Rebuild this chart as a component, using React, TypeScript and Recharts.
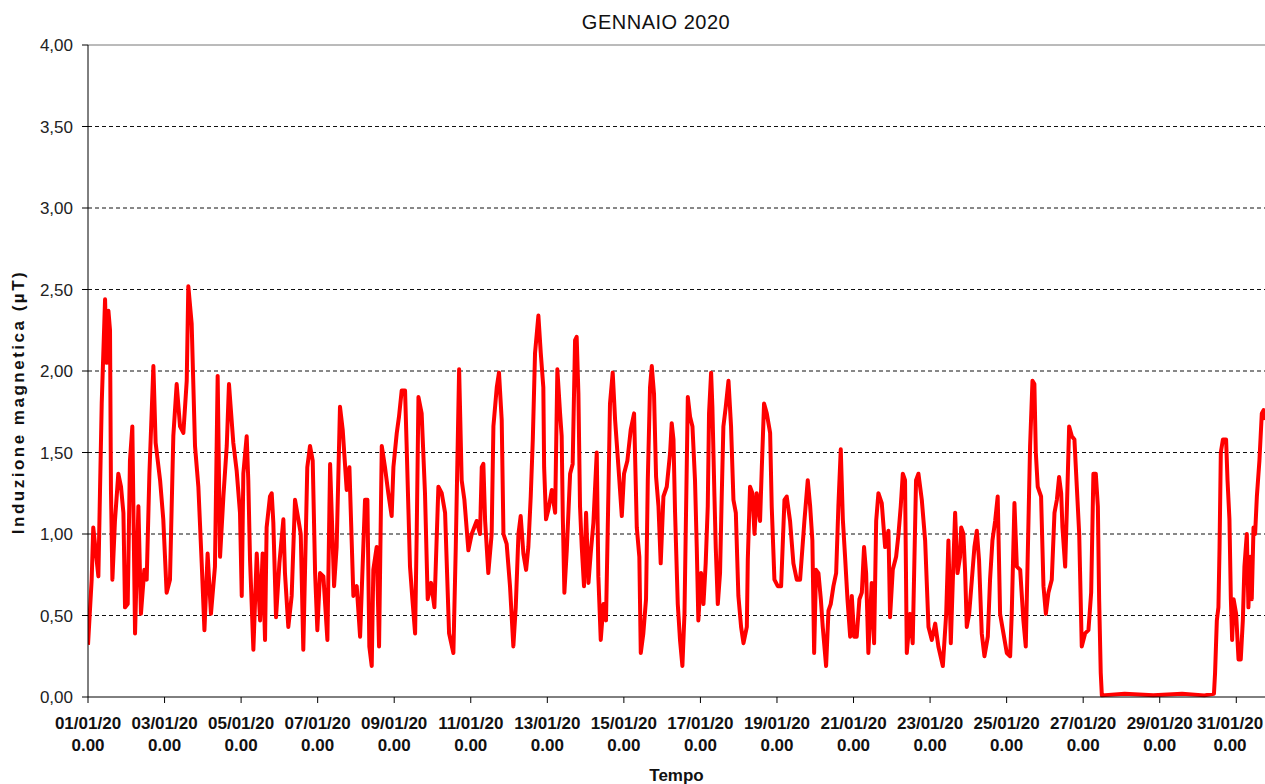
import {
  LineChart,
  Line,
  XAxis,
  YAxis,
  CartesianGrid,
  ReferenceLine,
  Label,
} from "recharts";

// hours since 01/01/2020 0.00
const hours = [
  0, 2.3, 3.3, 6.5, 7.5, 8.6, 10.7, 11.7, 12.8, 13.8, 14.4, 15.3, 16.9, 19.0,
  20.7, 22.2, 23.2, 24.9, 26.3, 27.8, 29.5, 31.6, 33.2, 35.3, 36.8, 38.5, 41.0,
  42.4, 45.2, 47.2, 49.3, 51.4, 53.5, 55.6, 57.7, 59.8, 61.9, 62.9, 65.0, 67.1,
  69.2, 71.3, 73.0, 75.0, 77.1, 79.6, 81.3, 82.8, 84.9, 87.0, 88.4, 91.1, 93.2,
  95.3, 96.4, 97.4, 99.5, 100.5, 101.6, 103.7, 105.8, 107.9, 109.5, 111.0,
  112.0, 114.1, 115.2, 116.2, 117.9, 120.0, 122.5, 123.5, 125.6, 127.7, 129.8,
  131.9, 133.4, 135.0, 137.5, 139.2, 140.9, 142.4, 143.8, 145.5, 147.6, 150.1,
  151.8, 154.3, 155.9, 158.0, 159.7, 162.2, 163.9, 166.4, 168.5, 170.6, 171.6,
  173.7, 175.2, 176.4, 177.9, 178.9, 181.0, 182.5, 184.2, 186.2, 188.3, 190.4,
  191.5, 193.6, 195.0, 196.7, 198.8, 199.8, 201.9, 203.4, 205.1, 206.1, 207.2,
  209.2, 211.3, 213.0, 215.1, 217.2, 219.7, 221.8, 223.9, 226.4, 229.1, 230.6,
  232.7, 234.3, 236.0, 238.5, 240.6, 243.7, 245.8, 246.9, 247.9, 249.0, 251.0,
  253.1, 254.2, 256.3, 257.7, 259.4, 260.5, 262.5, 264.6, 266.7, 268.2, 269.9,
  271.3, 273.0, 274.7, 276.1, 277.6, 278.9, 280.3, 282.4, 283.9, 285.5, 286.0,
  287.2, 288.7, 290.8, 292.9, 294.3, 296.0, 297.0, 297.7, 298.7, 300.2, 302.3,
  303.9, 305.4, 306.4, 307.5, 308.5, 309.6, 311.0, 312.3, 313.8, 315.2, 316.9,
  319.0, 320.0, 321.5, 323.2, 324.8, 326.3, 327.3, 329.0, 330.5, 332.6, 334.7,
  336.1, 338.2, 340.3, 342.4, 344.1, 345.7, 346.6, 348.2, 349.9, 351.0, 352.4,
  353.5, 354.9, 356.2, 357.7, 359.1, 360.8, 362.9, 365.0, 366.0, 367.1, 368.1,
  369.8, 371.2, 372.7, 374.0, 374.8, 376.1, 377.5, 379.0, 380.6, 381.7, 382.7,
  384.4, 385.9, 387.3, 388.6, 389.4, 390.7, 391.5, 392.8, 393.6, 394.9, 396.3,
  397.4, 398.4, 399.9, 401.6, 403.2, 404.7, 406.2, 407.8, 409.5, 411.0, 413.1,
  413.7, 415.1, 416.6, 417.9, 419.3, 421.4, 422.5, 423.9, 425.6, 427.7, 428.7,
  430.4, 432.5, 434.6, 436.7, 438.1, 440.2, 442.3, 444.4, 446.5, 449.2, 451.3,
  452.8, 454.2, 455.3, 456.5, 458.0, 459.5, 460.7, 462.8, 464.3, 465.7, 467.4,
  469.1, 470.5, 472.0, 473.3, 474.7, 476.2, 477.9, 478.9, 480.4, 482.0, 483.7,
  485.2, 486.6, 487.9, 489.3, 491.4, 492.9, 494.2, 495.6, 497.7, 499.8, 501.9,
  502.9, 504.6, 506.7, 508.2, 509.6, 510.9, 512.3, 513.4, 515.5, 517.1, 519.2,
  520.7, 522.8, 524.9, 527.0, 529.1, 531.2, 533.2, 536.0, 538.1, 539.5, 541.0,
  542.6, 543.7, 545.2, 546.8, 547.5, 548.9, 550.0, 551.0, 552.5, 554.2, 555.8,
  557.3, 558.7, 560.4, 562.1, 564.2, 565.6, 567.1, 568.8, 570.4, 571.9, 574.0,
  576.1, 578.2, 579.2, 580.9, 582.4, 584.5, 586.5, 588.0, 589.7, 590.7, 592.2,
  593.4, 594.3, 595.5, 597.6, 599.1, 600.6, 602.2, 604.3, 606.0, 607.5, 608.9,
  610.2, 611.0, 612.7, 613.7, 615.2, 616.9, 618.5, 620.0, 621.5, 623.1, 625.2,
  627.3, 629.0, 630.4, 631.9, 633.2, 634.0, 635.0, 635.7, 650.0, 668.0, 686.0,
  700.0, 706.0, 706.7, 707.8, 708.8, 709.5, 710.3, 711.6, 713.6, 714.5, 715.7,
  716.6, 717.4, 718.3, 719.9, 721.4, 722.8, 724.1, 725.1, 726.6, 727.6, 728.7,
  729.7, 730.8, 731.8, 732.9, 734.5, 736.0, 737.1, 738.1,
];

// µT
const induction = [
  0.32, 0.72, 1.04, 0.74, 1.25, 1.8, 2.44, 2.05, 2.37, 2.25, 1.27, 0.72, 1.08,
  1.37, 1.29, 1.13, 0.55, 0.57, 1.45, 1.66, 0.39, 1.17, 0.51, 0.78, 0.72, 1.37,
  2.03, 1.56, 1.33, 1.09, 0.64, 0.72, 1.6, 1.92, 1.66, 1.62, 1.94, 2.52, 2.29,
  1.54, 1.29, 0.82, 0.41, 0.88, 0.51, 0.8, 1.97, 0.86, 1.23, 1.54, 1.92, 1.56,
  1.39, 1.13, 0.62, 1.37, 1.6, 1.33, 0.84, 0.29, 0.88, 0.47, 0.88, 0.35, 1.04,
  1.23, 1.25, 1.07, 0.49, 0.82, 1.09, 0.76, 0.43, 0.62, 1.21, 1.09, 1.0, 0.29,
  1.41, 1.54, 1.45, 0.76, 0.41, 0.76, 0.74, 0.35, 1.43, 0.68, 0.92, 1.78, 1.64,
  1.27, 1.41, 0.62, 0.68, 0.37, 0.64, 1.21, 1.21, 0.31, 0.19, 0.78, 0.92, 0.31,
  1.54, 1.41, 1.25, 1.11, 1.41, 1.62, 1.72, 1.88, 1.88, 1.54, 0.8, 0.6, 0.39,
  1.0, 1.84, 1.74, 1.25, 0.6, 0.7, 0.55, 1.29, 1.25, 1.13, 0.39, 0.27, 0.92,
  2.01, 1.33, 1.21, 0.9, 1.0, 1.08, 1.0, 1.41, 1.43, 1.08, 0.76, 1.0, 1.66, 1.9,
  1.99, 1.7, 1.0, 0.94, 0.68, 0.31, 0.55, 1.0, 1.11, 0.88, 0.78, 0.92, 1.23,
  1.58, 2.11, 2.34, 2.11, 1.9, 1.41, 1.09, 1.15, 1.27, 1.13, 2.01, 1.74, 1.6,
  1.11, 0.64, 0.9, 1.37, 1.43, 2.19, 2.21, 1.86, 1.17, 0.92, 0.68, 1.13, 0.7,
  0.88, 1.07, 1.5, 0.74, 0.35, 0.57, 0.47, 1.25, 1.8, 1.99, 1.7, 1.41, 1.11,
  1.37, 1.45, 1.64, 1.74, 1.04, 0.86, 0.27, 0.39, 0.6, 1.33, 1.9, 2.03, 1.86,
  1.35, 1.17, 0.82, 1.23, 1.29, 1.5, 1.68, 1.58, 1.13, 0.57, 0.35, 0.19, 0.51,
  1.02, 1.84, 1.72, 1.66, 1.33, 0.92, 0.47, 0.76, 0.57, 0.82, 1.17, 1.74, 1.99,
  1.78, 1.23, 0.92, 0.57, 0.76, 1.25, 1.66, 1.78, 1.94, 1.66, 1.21, 1.13, 0.62,
  0.43, 0.33, 0.43, 0.84, 1.29, 1.25, 1.0, 1.25, 1.08, 1.41, 1.8, 1.74, 1.62,
  1.17, 0.72, 0.68, 0.68, 1.21, 1.23, 1.08, 0.82, 0.72, 0.72, 1.08, 1.33, 1.17,
  0.96, 0.27, 0.78, 0.76, 0.6, 0.43, 0.19, 0.53, 0.57, 0.68, 0.76, 1.17, 1.52,
  1.09, 0.86, 0.6, 0.37, 0.62, 0.37, 0.37, 0.6, 0.64, 0.92, 0.76, 0.27, 0.7,
  0.33, 1.08, 1.25, 1.19, 0.92, 1.02, 0.49, 0.78, 0.86, 1.0, 1.17, 1.37, 1.33,
  0.27, 0.51, 0.33, 1.33, 1.37, 1.21, 0.96, 0.43, 0.35, 0.45, 0.31, 0.19, 0.51,
  0.96, 0.33, 0.82, 1.13, 0.76, 0.86, 1.04, 1.0, 0.76, 0.43, 0.51, 0.72, 0.92,
  1.02, 0.84, 0.39, 0.25, 0.37, 0.72, 0.96, 1.08, 1.23, 0.51, 0.39, 0.27, 0.25,
  0.51, 1.19, 0.8, 0.78, 0.47, 0.31, 1.08, 1.54, 1.94, 1.92, 1.5, 1.29, 1.23,
  0.68, 0.51, 0.64, 0.72, 1.13, 1.21, 1.35, 1.25, 1.04, 0.8, 1.13, 1.66, 1.6,
  1.58, 1.29, 1.0, 0.31, 0.39, 0.41, 0.64, 1.37, 1.37, 1.17, 0.6, 0.15, 0.01,
  0.02, 0.01, 0.02, 0.01, 0.02, 0.15, 0.47, 0.55, 0.92, 1.5, 1.58, 1.58, 1.33,
  1.09, 0.6, 0.35, 0.6, 0.51, 0.23, 0.23, 0.47, 0.8, 1.0, 0.55, 0.86, 0.6, 1.04,
  1.0, 1.23, 1.45, 1.74, 1.76, 1.7,
];

const xTicks = [
  0, 48, 96, 144, 192, 240, 288, 336, 384, 432, 480, 528, 576, 624, 672, 720,
];
const yTicks = [0, 0.5, 1, 1.5, 2, 2.5, 3, 3.5, 4];
const gridValues = [0.5, 1, 1.5, 2, 2.5, 3, 3.5];

const data = hours.map((h, i) => ({ h, v: induction[i] }));

const FONT = "'Liberation Sans', Arial, sans-serif";

function DateTick(props: any) {
  const { x, y, payload } = props;
  const day = String(payload.value / 24 + 1).padStart(2, "0");
  // keep the last label inside the page
  const cx = Math.min(x, 1230);
  return (
    <text
      x={cx}
      y={y}
      textAnchor="middle"
      fontSize={17}
      fontWeight="bold"
      fontFamily={FONT}
      fill="#111"
    >
      <tspan x={cx} dy={24}>
        {day}/01/20
      </tspan>
      <tspan x={cx} dy={22}>
        0.00
      </tspan>
    </text>
  );
}

export default function App() {
  return (
    <div
      style={{
        position: "absolute",
        left: 0,
        top: 0,
        width: 1265,
        height: 784,
        background: "#fff",
      }}
    >
      <div
        style={{
          position: "absolute",
          left: 506,
          top: 11,
          width: 300,
          textAlign: "center",
          fontFamily: FONT,
          fontSize: 20,
          letterSpacing: 0.5,
          color: "#111",
          lineHeight: "22px",
        }}
      >
        GENNAIO 2020
      </div>

      <LineChart
        width={1265}
        height={784}
        data={data}
        margin={{ top: 45, right: 0, bottom: 0, left: 0 }}
      >
        <CartesianGrid
          vertical={false}
          horizontalValues={gridValues}
          stroke="#111"
          strokeDasharray="4 3"
        />

        <ReferenceLine y={4} stroke="#777" strokeDasharray="0" />

        <XAxis
          dataKey="h"
          type="number"
          domain={[0, 738]}
          ticks={xTicks}
          interval={0}
          allowDataOverflow
          height={87}
          tickSize={6}
          tickMargin={2}
          tick={DateTick}
          axisLine={{ stroke: "#000" }}
          tickLine={{ stroke: "#000" }}
        >
          <Label
            value="Tempo"
            position="insideBottom"
            offset={3}
            fontSize={17}
            fontWeight="bold"
            fontFamily={FONT}
            fill="#111"
          />
        </XAxis>

        <YAxis
          domain={[0, 4]}
          ticks={yTicks}
          interval={0}
          width={88}
          tickSize={6}
          tickMargin={9}
          tickFormatter={(v: number) => v.toFixed(2).replace(".", ",")}
          tick={{ fontSize: 17, fill: "#222", fontFamily: FONT }}
          axisLine={{ stroke: "#000" }}
          tickLine={{ stroke: "#000" }}
        >
          <Label
            content={() => (
              <text
                transform="translate(24,402) rotate(-90)"
                textAnchor="middle"
                fontSize={17}
                fontWeight="bold"
                fontFamily={FONT}
                letterSpacing={2.5}
                fill="#111"
              >
                Induzione magnetica (µT)
              </text>
            )}
          />
        </YAxis>

        <Line
          type="linear"
          dataKey="v"
          stroke="#ff0000"
          strokeWidth={4}
          strokeLinejoin="round"
          dot={false}
          activeDot={false}
          isAnimationActive={false}
        />
      </LineChart>
    </div>
  );
}
